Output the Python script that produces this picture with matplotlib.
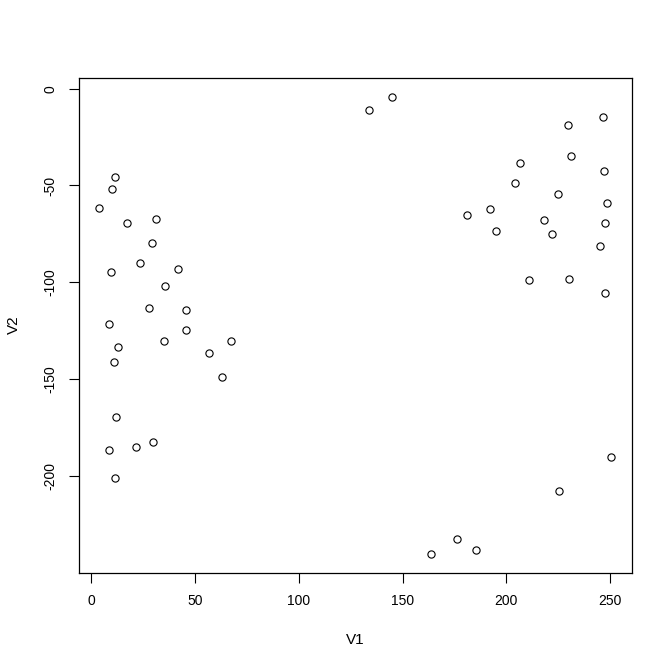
import matplotlib
matplotlib.use('Agg')
import matplotlib.pyplot as plt

plt.rcParams['font.family'] = ['Liberation Sans', 'DejaVu Sans']

# values (V1, V2)
V1 = [11.4, 9.9, 3.7, 17.2, 31.2, 29.2,
      23.4, 9.5, 41.8, 35.5, 27.8, 45.6, 8.5, 45.6, 35.0, 67.3, 12.8, 56.7,
      10.9, 63.0, 11.9, 29.7, 21.5, 8.5, 11.4,
      145.0, 133.9, 246.8, 229.9, 231.2, 206.8, 247.3, 204.3, 225.1, 248.6,
      192.3, 181.2, 218.3, 247.8, 195.2, 222.2, 245.3,
      211.1, 230.4, 247.8, 250.7, 225.6, 176.4, 185.5, 163.8]
V2 = [-45.5, -51.7, -61.5, -69.3, -67.2, -79.6,
      -90.0, -94.6, -93.1, -101.9, -113.3, -114.3, -121.5, -124.6, -130.3, -130.3, -133.4, -136.5,
      -141.2, -149.0, -169.6, -182.6, -185.2, -186.7, -201.2,
      -4.1, -10.9, -14.5, -18.6, -34.7, -38.3, -42.3, -48.6, -54.3, -59.0,
      -62.1, -65.2, -67.8, -69.3, -73.4, -74.8, -81.0,
      -98.8, -98.3, -105.5, -190.3, -207.9, -232.7, -238.4, -240.5]

X_TICKS = [0, 50, 100, 150, 200, 250]
Y_TICKS = [0, -50, -100, -150, -200]

W, H = 672, 671
fig = plt.figure(figsize=(W / 100, H / 100), dpi=100)
ax = fig.add_axes([78.5 / W, 1 - 572.7 / H, (632 - 78.5) / W, (572.7 - 78.3) / H])

ax.plot(V1, V2, 'o', mfc='none', mec='black', ms=5.2, mew=0.8)

# R-style 4% padding
xr = max(V1) - min(V1)
yr = max(V2) - min(V2)
ax.set_xlim(min(V1) - 0.04 * xr, max(V1) + 0.04 * xr)
ax.set_ylim(min(V2) - 0.04 * yr, max(V2) + 0.04 * yr)

ax.set_xticks(X_TICKS)
ax.set_yticks(Y_TICKS)
ax.set_yticklabels([str(v) for v in Y_TICKS], rotation=90, va='center')
ax.tick_params(direction='out', length=7, width=0.8, labelsize=10, pad=8)
for s in ax.spines.values():
    s.set_linewidth(0.9)

fig.text(355 / W, 1 - 640 / H, 'V1', ha='center', va='center', fontsize=11)
fig.text(14 / W, 1 - 325 / H, 'V2', ha='center', va='center', fontsize=11, rotation=90)

plt.savefig('out.png', dpi=100)
plt.close()
